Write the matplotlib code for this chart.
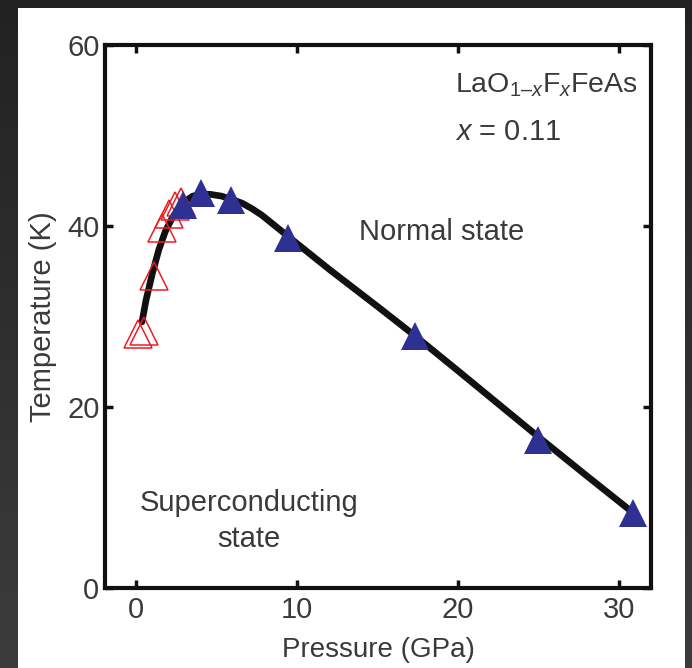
#!/usr/bin/env python3
"""Diagrama de fase T x P do LaO(1-x)F(x)FeAs, x = 0.11 (recriação)."""

import matplotlib

matplotlib.use("Agg")
import matplotlib.pyplot as plt  # noqa: E402
import numpy as np  # noqa: E402
from matplotlib.patches import Rectangle  # noqa: E402

# Pontos abertos (vermelhos), baixa pressão.
P_VERM = [0.1, 0.5, 1.1, 1.6, 2.0, 2.4, 2.8]
T_VERM = [28.1, 28.4, 34.5, 39.8, 41.3, 42.2, 42.6]

# Pontos cheios (azuis).
P_AZUL = [2.9, 4.0, 5.9, 9.4, 17.3, 25.0, 30.9]
T_AZUL = [42.3, 43.6, 42.9, 38.7, 27.8, 16.4, 8.3]

# Curva-guia.
P_CURVA = [0.35, 0.6, 1.0, 1.4, 1.8, 2.2, 2.6, 3.0, 3.5, 4.0, 4.6, 5.3, 6.0,
           6.6, 7.2, 7.8, 8.5, 9.4, 12.0, 15.0, 17.3, 20.0, 25.0, 28.0, 30.9]
T_CURVA = [29.4, 31.8, 34.8, 37.4, 39.4, 40.8, 41.9, 42.7, 43.3, 43.5, 43.5,
           43.3, 42.9, 42.5, 41.9, 41.2, 40.2, 38.9, 35.2, 31.1, 27.9, 24.0,
           16.7, 12.4, 8.3]

XTICKS = [0, 10, 20, 30]
YTICKS = [0, 20, 40, 60]

COR_AZUL = "#2e3192"
COR_VERM = "#ed1c24"
COR_TEXTO = "#3a3a3a"

plt.rcParams["font.family"] = ["Liberation Sans", "DejaVu Sans"]
plt.rcParams["mathtext.fontset"] = "custom"
plt.rcParams["mathtext.rm"] = "Liberation Sans"
plt.rcParams["mathtext.it"] = "Liberation Sans:italic"

fig = plt.figure(figsize=(6.92, 6.68), dpi=100)

# Moldura escura com leve degradê e painel branco.
fundo = fig.add_axes([0, 0, 1, 1], zorder=-10)
grad = np.linspace(0, 1, 256).reshape(-1, 1)
fundo.imshow(grad, cmap=matplotlib.colors.LinearSegmentedColormap.from_list(
    "g", ["#222222", "#3c3c3c"]), aspect="auto", extent=[0, 1, 0, 1])
fundo.set_axis_off()
fig.patches.append(Rectangle((18 / 692, 0), (685 - 18) / 692, (668 - 8) / 668,
                             transform=fig.transFigure, facecolor="white",
                             edgecolor="none", zorder=-5))

ax = fig.add_axes([105 / 692, 80 / 668, (651 - 105) / 692, (588 - 45) / 668])
ax.set_facecolor("none")

ax.plot(P_CURVA, T_CURVA, color="#111111", linewidth=4.8,
        solid_capstyle="round", solid_joinstyle="round", zorder=2)
ax.plot(P_VERM, T_VERM, "^", markersize=20, markerfacecolor="none",
        markeredgecolor=COR_VERM, markeredgewidth=1.1, zorder=3)
ax.plot(P_AZUL, T_AZUL, "^", markersize=20, color=COR_AZUL,
        markeredgewidth=0, zorder=4, clip_on=False)

ax.set_xlim(-1.95, 32.0)
ax.set_ylim(0, 60)
ax.set_xticks(XTICKS)
ax.set_yticks(YTICKS)
for lado in ax.spines.values():
    lado.set_linewidth(3.0)
    lado.set_color("#111111")
ax.tick_params(direction="in", length=6, width=2.5, color="#111111",
               top=True, right=True, labelsize=21, labelcolor=COR_TEXTO, pad=6)
ax.tick_params(axis="y", pad=4)

ax.set_xlabel("Pressure (GPa)", fontsize=20, color=COR_TEXTO, labelpad=9)
ax.set_ylabel("Temperature (K)", fontsize=21, color=COR_TEXTO, labelpad=7)

ax.text(19.0, 39.3, "Normal state", fontsize=21, color=COR_TEXTO,
        ha="center", va="center")
ax.text(7.0, 7.4, "Superconducting\nstate", fontsize=21, color=COR_TEXTO,
        ha="center", va="center", linespacing=1.35)
ax.text(19.8, 55.6, "LaO$_{1\u2013\\mathit{x}}$F$_{\\mathit{x}}$FeAs",
        fontsize=20.5, color=COR_TEXTO, ha="left", va="center")
ax.text(19.8, 50.4, "$\\mathit{x}$ = 0.11", fontsize=21, color=COR_TEXTO,
        ha="left", va="center")

fig.savefig("out.png", dpi=100, facecolor="#2a2a2a")
plt.close(fig)
